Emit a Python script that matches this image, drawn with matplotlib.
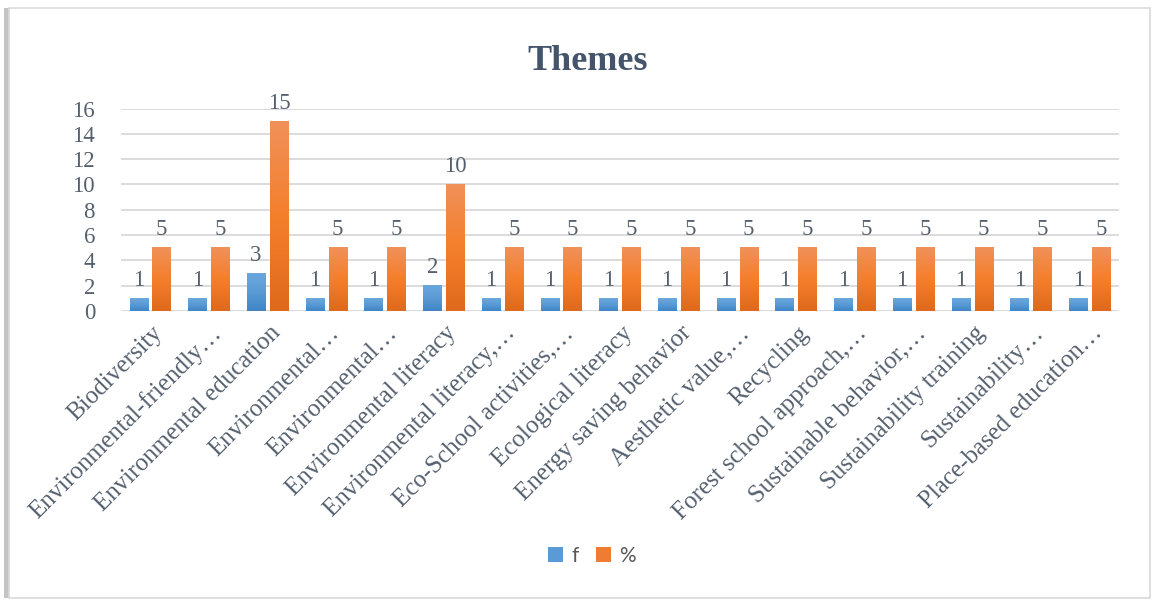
import numpy as np
import matplotlib.pyplot as plt
from matplotlib.patches import Rectangle, Patch
from matplotlib.colors import LinearSegmentedColormap
import matplotlib.transforms as mtransforms

# data
themes = [
	'Biodiversity',
	'Environmental-friendly…',
	'Environmental education',
	'Environmental…',
	'Environmental…',
	'Environmental literacy',
	'Environmental literacy,…',
	'Eco-School activities,…',
	'Ecological literacy',
	'Energy saving behavior',
	'Aesthetic value,…',
	'Recycling',
	'Forest school approach,…',
	'Sustainable behavior,…',
	'Sustainability training',
	'Sustainability…',
	'Place-based education…',
]
f_values = [1, 1, 3, 1, 1, 2, 1, 1, 1, 1, 1, 1, 1, 1, 1, 1, 1]
pct_values = [5, 5, 15, 5, 5, 10, 5, 5, 5, 5, 5, 5, 5, 5, 5, 5, 5]

W, H = 1154, 601
TEXT = '#55606e'
SERIF = 'Liberation Serif'

# bottom -> top colours of the gradient fill
blue_cmap = LinearSegmentedColormap.from_list('blue', ['#3f84c6', '#5a9bd5', '#6ba7dd'])
orange_cmap = LinearSegmentedColormap.from_list('orange', ['#df691c', '#f47f2b', '#f0915a'])


def gradient_fill(ax, bars, cmap):
	grad = np.linspace(0, 1, 256).reshape(-1, 1)
	for b in bars:
		x0, w, h = b.get_x(), b.get_width(), b.get_height()
		ax.imshow(grad, extent=[x0, x0 + w, 0, h], origin='lower', cmap=cmap,
			aspect='auto', interpolation='bilinear', zorder=3)


fig = plt.figure(figsize=(W / 100, H / 100), dpi=100)

# chart frame with a soft shadow on the left
fig.patches.append(Rectangle((4 / W, 3 / H), 5 / W, (H - 11) / H, transform=fig.transFigure,
	facecolor='#c4c4c4', edgecolor='none', zorder=-3))
fig.patches.append(Rectangle((9 / W, 3 / H), (W - 13) / W, (H - 11) / H, transform=fig.transFigure,
	facecolor='white', edgecolor='#d9d9d9', lw=1.2, zorder=-2))

ax = fig.add_axes([120.7 / W, 1 - 311 / H, (1119 - 120.7) / W, (311 - 108.5) / H])
ax.set_facecolor('none')
ax.set_zorder(2)

x = np.arange(len(themes))
bw = 0.31
bars_f = ax.bar(x - 0.195, f_values, bw, color='none', zorder=3)
bars_p = ax.bar(x + 0.195, pct_values, bw, color='none', zorder=3)
gradient_fill(ax, bars_f, blue_cmap)
gradient_fill(ax, bars_p, orange_cmap)

for bars, vals in ((bars_f, f_values), (bars_p, pct_values)):
	for b, v in zip(bars, vals):
		ax.annotate(str(v), (b.get_x() + b.get_width() / 2, v), xytext=(0, 9), textcoords='offset points',
			ha='center', va='baseline', fontsize=16.5, family=SERIF, color=TEXT)

ax.set_xlim(-0.5, len(themes) - 0.5)
ax.set_ylim(0, 16)
ax.set_yticks(range(0, 17, 2))
ax.grid(axis='y', color='#d9d9d9', lw=1.3, zorder=0)
ax.set_axisbelow(True)
for s in ax.spines.values():
	s.set_visible(False)
ax.tick_params(axis='both', length=0)
ax.tick_params(axis='y', pad=18.5)
for lab in ax.get_yticklabels():
	lab.set_fontfamily(SERIF)
	lab.set_fontsize(16.5)
	lab.set_color(TEXT)

ax.set_xticks(x)
ax.set_xticklabels(themes, rotation=45, ha='right', rotation_mode='anchor',
	fontsize=18, family=SERIF, color=TEXT)
ax.tick_params(axis='x', pad=8)
shift = mtransforms.ScaledTranslation(1 / 72, 0, fig.dpi_scale_trans)
for lab in ax.get_xticklabels():
	lab.set_transform(lab.get_transform() + shift)

fig.text(588 / W, 1 - 61 / H, 'Themes', ha='center', va='center', fontsize=26,
	weight='bold', family=SERIF, color='#44546a')

handles = [Patch(facecolor='#5b9bd5'), Patch(facecolor='#ef7d31')]
fig.legend(handles=handles, labels=['f', '%'], loc='center', bbox_to_anchor=(592 / W, 1 - 556 / H),
	ncol=2, frameon=False, handlelength=0.75, handleheight=0.75, handletextpad=0.4, columnspacing=0.8,
	prop={'family': 'Lato', 'size': 15}, labelcolor='#595959')

fig.savefig('out.png', dpi=100)
